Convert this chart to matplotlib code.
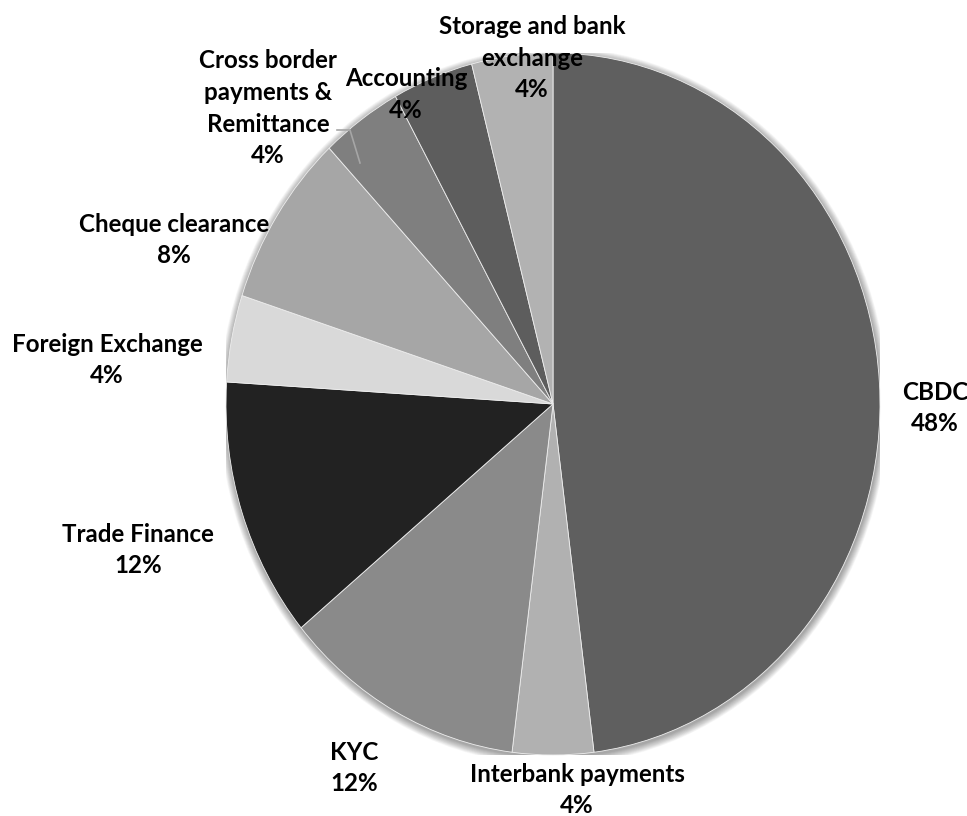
import matplotlib
matplotlib.use("Agg")
import matplotlib.pyplot as plt
from matplotlib.patches import Ellipse

# Use case shares (percent), clockwise from 12 o'clock
categories = ["CBDC", "Interbank payments", "KYC", "Trade Finance",
              "Foreign Exchange", "Cheque clearance",
              "Cross border\npayments &\nRemittance", "Accounting",
              "Storage and bank\nexchange"]
shares = [48, 4, 12, 12, 4, 8, 4, 4, 4]
colors = ["#5f5f5f", "#b1b1b1", "#8a8a8a", "#222222", "#d9d9d9",
          "#a6a6a6", "#7f7f7f", "#5d5d5d", "#b2b2b2"]

W, H = 967, 816
cx, cy = 553, 404          # pie centre (pixels)
rx, ry = 327, 351          # horizontal / vertical radius (pixels)
line_step = 31.5           # distance between label baselines (pixels)

# label anchor: horizontal centre and baseline of the last line, in pixels
label_pos = [(935, 431), (577, 813), (354, 791), (138, 573), (107, 383),
             (174, 263), (268, 163), (406, 118), (532, 97)]

fig = plt.figure(figsize=(W / 100, H / 100), dpi=100)
ax = fig.add_axes([(cx - rx) / W, (H - cy - ry) / H, 2 * rx / W, 2 * ry / H])

# soft drop shadow around the pie
n = 16
for i in range(n):
    s = 1.0 + 0.0014 * (i + 1)
    ax.add_patch(Ellipse((0.002, -0.006), 2 * s, 2 * s, facecolor="#000000",
                         alpha=0.022, edgecolor="none", zorder=0))

ax.pie(shares, colors=colors, startangle=90, counterclock=False,
       wedgeprops=dict(edgecolor="#eeeeee", linewidth=0.6), radius=1.0)
ax.set_aspect("auto")
ax.set_xlim(-1, 1)
ax.set_ylim(-1, 1)
ax.axis("off")


def to_data(px, py):
    return (px - cx) / rx, (cy - py) / ry


for name, val, (px, py) in zip(categories, shares, label_pos):
    lines = name.split("\n") + [f"{val}%"]
    k = len(lines)
    for i, line in enumerate(lines):
        x, y = to_data(px, py - (k - 1 - i) * line_step)
        ax.text(x, y, line, ha="center", va="baseline", fontsize=17.4,
                fontweight="bold", family="Lato", color="#000000",
                clip_on=False)

# leader line for the cross-border label
lx, ly = zip(*[to_data(337, 130), to_data(350, 130), to_data(360, 163)])
ax.plot(lx, ly, color="#a6a6a6", lw=1.2, clip_on=False)

fig.savefig("out.png", dpi=100, facecolor="white")
